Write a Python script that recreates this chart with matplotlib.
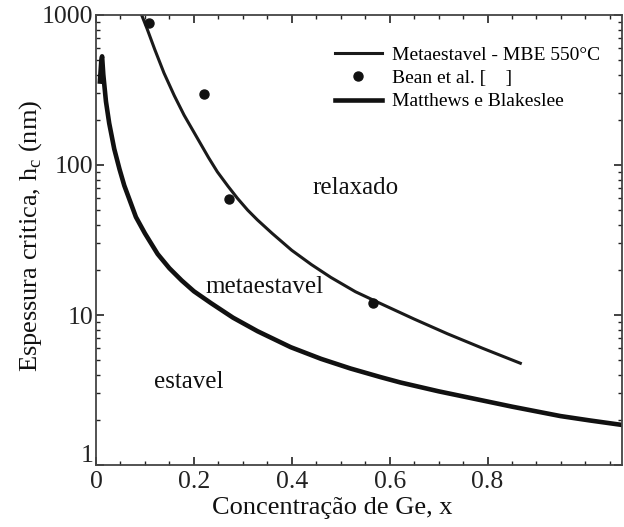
import numpy as np
import matplotlib
matplotlib.use('Agg')
import matplotlib.pyplot as plt
import matplotlib.transforms as mtransforms
from matplotlib.ticker import MultipleLocator, LogLocator, NullFormatter, FixedLocator

## values
x_meta = [0.0933, 0.105, 0.12, 0.139, 0.16, 0.18, 0.2076, 0.23, 0.248, 0.27, 0.289, 0.31,
          0.33, 0.36, 0.40, 0.44, 0.48, 0.53, 0.582, 0.65, 0.718, 0.79, 0.867]
h_meta = [1000, 800, 590, 410, 290, 215, 150, 112, 90, 72, 60, 50,
          43, 35, 27, 21.7, 17.8, 14.3, 11.9, 9.4, 7.5, 6.0, 4.77]

x_bean = [0.109, 0.221, 0.272, 0.565]
h_bean = [889, 296, 59.3, 12.0]

x_mb = [0.008, 0.011, 0.0125, 0.015, 0.0204, 0.027, 0.0373, 0.048, 0.0578, 0.07, 0.0816,
        0.10, 0.126, 0.15, 0.175, 0.20, 0.235, 0.28, 0.33, 0.398, 0.46, 0.52, 0.582,
        0.622, 0.70, 0.765, 0.85, 0.949, 1.01, 1.08]
h_mb = [360, 500, 530, 400, 265, 190, 128, 94, 73, 57, 45,
        35, 25.5, 20.5, 17, 14.4, 12, 9.6, 7.8, 6.1, 5.1, 4.4, 3.85,
        3.55, 3.1, 2.8, 2.45, 2.12, 1.98, 1.84]

labels = ['Metaestavel - MBE 550°C', 'Bean et al. [    ]', 'Matthews e Blakeslee']
regions = [('relaxado', 0.53, 70), ('metaestavel', 0.345, 15.4), ('estavel', 0.19, 3.6)]

plt.rcParams['font.family'] = ['Liberation Serif', 'DejaVu Serif']
plt.rcParams['mathtext.fontset'] = 'custom'
plt.rcParams['mathtext.rm'] = 'Liberation Serif'

fig = plt.figure(figsize=(6.24, 5.27), dpi=100)
ax = fig.add_axes([0.1538, 0.1176, 0.8432, 0.854])

ax.plot(x_meta, h_meta, color='#1a1a1a', lw=2.2, label=labels[0], solid_joinstyle='round')
ax.plot(x_bean, h_bean, 'o', color='#111111', ms=6.5, label=labels[1])
ax.plot(x_mb, h_mb, color='#111111', lw=3.3, label=labels[2], solid_joinstyle='round')

ax.set_yscale('log')
ax.set_xlim(0, 1.075)
ax.set_ylim(1, 1000)

ax.xaxis.set_major_locator(FixedLocator([0, 0.2, 0.4, 0.6, 0.8]))
ax.xaxis.set_minor_locator(MultipleLocator(0.05))
ax.set_xticklabels(['0', '0.2', '0.4', '0.6', '0.8'])
ax.set_yticks([1, 10, 100, 1000])
ax.set_yticklabels(['1', '10', '100', '1000'])
ax.yaxis.set_minor_locator(LogLocator(base=10, subs=np.arange(2, 10), numticks=10))
ax.yaxis.set_minor_formatter(NullFormatter())

ax.tick_params(which='both', direction='in', top=True, right=True, labelsize=18.5, colors='#222222')
ax.tick_params(which='major', length=6, width=1.2)
ax.tick_params(which='minor', length=3, width=1.0)
ax.tick_params(axis='x', pad=4)
ax.tick_params(axis='y', pad=2)
for s in ax.spines.values():
    s.set_linewidth(1.3)
    s.set_color('#444444')

# lift the "1" label a little so it clears the "0" below it
lab1 = ax.get_yticklabels()[0]
lab1.set_transform(lab1.get_transform() + mtransforms.ScaledTranslation(0, 8 / 72, fig.dpi_scale_trans))

ax.set_xlabel('Concentração de Ge, x', fontsize=19, color='#111111')
ax.xaxis.set_label_coords(0.45, -0.07)
ax.set_ylabel(r'Espessura critica, h$_\mathrm{c}$ (nm)', fontsize=19, color='#111111')
ax.yaxis.set_label_coords(-0.098, 0.51)

for txt, xx, yy in regions:
    ax.text(xx, yy, txt, fontsize=18, ha='center', va='center', color='#111111')

leg = ax.legend(loc='upper left', bbox_to_anchor=(335 / 624, 1 - 46 / 527),
                bbox_transform=fig.transFigure, frameon=False, fontsize=14,
                handlelength=2.4, handletextpad=0.55, labelspacing=0.3,
                borderpad=0.0, borderaxespad=0.0)

fig.savefig('out.png', dpi=100)
